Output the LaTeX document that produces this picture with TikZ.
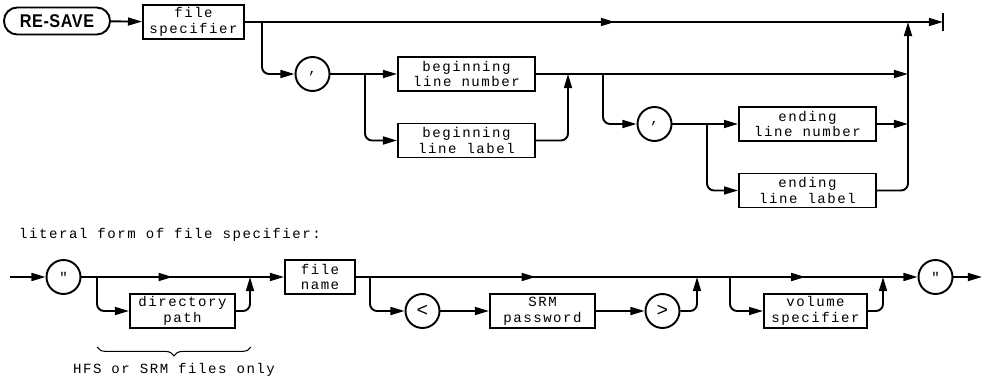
\documentclass[tikz,border=0pt]{standalone}
\usepackage{fontspec}
\usetikzlibrary{arrows.meta,decorations.markings,decorations.pathreplacing}
\newfontfamily\plotfont{Liberation Mono}[LetterSpace=11, Ligatures=TeXOff]
\newfontfamily\keyfont{Liberation Sans}[FakeStretch=0.88, LetterSpace=3]
\begin{document}
\begin{tikzpicture}[x=0.02cm, y=-0.02cm, >={Triangle[length=8pt,width=4.5pt]}]

    \tikzset{
        item/.style={
            draw,
            rectangle,
            line width=1.1pt,
            minimum height=0.68cm,
            inner sep=1pt,
            align=center,
            font=\plotfont\fontsize{8}{9}\selectfont
        },
        ring/.style={
            draw,
            circle,
            line width=1.1pt,
            minimum size=0.68cm,
            inner sep=0pt,
            font=\plotfont\fontsize{8}{9}\selectfont
        },
        keyword/.style={
            draw,
            rectangle,
            rounded corners=7.5pt,
            line width=1.1pt,
            minimum width=2.12cm,
            minimum height=0.54cm,
            font=\keyfont\bfseries\fontsize{10.5}{12}\selectfont
        },
        wire/.style={line width=1.1pt},
        flow/.style={line width=1.1pt, ->},
        roundbend/.style={rounded corners=4pt},
        midarrow/.style={postaction={decorate,
            decoration={markings, mark=at position #1 with {\arrow{>}}}}},
        remark/.style={font=\plotfont\fontsize{8}{9}\selectfont}
    }

    \useasboundingbox (0,0) rectangle (983,378);

    % horní diagram: RE-SAVE
    \node[keyword] (resave) at (57,21) {RE-SAVE};
    \node[item, minimum width=2.02cm] (fspec) at (193.5,22) {file\\specifier};
    \node[ring] (comma1) at (312.5,74) {,};
    \node[item, minimum width=2.74cm] (bnum) at (466.5,74) {beginning\\line number};
    \node[item, minimum width=2.74cm] (blab) at (466.5,140.5) {beginning\\line label};
    \node[ring] (comma2) at (654.5,124) {,};
    \node[item, minimum width=2.74cm] (enum) at (807.5,124) {ending\\line number};
    \node[item, minimum width=2.74cm] (elab) at (807.5,190.5) {ending\\line label};

    % body větvení
    \coordinate (tend) at (943,22);
    \coordinate (b1) at (262,22);
    \coordinate (b2) at (365,74);
    \coordinate (j1) at (568,74);
    \coordinate (b3) at (603,74);
    \coordinate (j2) at (908,74);
    \coordinate (b4) at (707,124);
    \coordinate (j3) at (908,124);
    \coordinate (j4) at (908,22);

    \draw[flow] (resave) -- (fspec);
    \draw[flow, midarrow=0.53] (fspec) -- (tend);
    \draw[wire] ([yshift=5pt]tend) -- ([yshift=-5pt]tend);
    \draw[flow, roundbend] (b1) |- (comma1);
    \draw[flow] (comma1) -- (bnum);
    \draw[flow, roundbend] (b2) |- (blab);
    \draw[flow, roundbend] (blab) -| (j1);
    \draw[flow] (bnum) -- (j2);
    \draw[flow, roundbend] (b3) |- (comma2);
    \draw[flow] (comma2) -- (enum);
    \draw[flow, roundbend] (b4) |- (elab);
    \draw[flow] (enum) -- (j3);
    \draw[flow, roundbend] (elab) -| (j4);

    % dolní diagram: literal form
    \node[remark, anchor=west] (caption) at (13,235) {literal form of file specifier:};
    \node[ring] (q1) at (63.5,277) {"};
    \node[item, minimum width=2.1cm] (dirpath) at (182.5,311) {directory\\path};
    \node[item, minimum width=1.4cm] (fname) at (320,277) {file\\name};
    \node[ring] (lt) at (422.5,311) {\fontsize{11}{12}\selectfont <};
    \node[item, minimum width=2.1cm] (srm) at (542.5,311) {SRM\\password};
    \node[ring] (gt) at (662.5,311) {\fontsize{11}{12}\selectfont >};
    \node[item, minimum width=2.06cm] (vol) at (815.5,311) {volume\\specifier};
    \node[ring] (q2) at (935.5,277) {"};

    \coordinate (start) at (10,277);
    \coordinate (stop) at (982,277);
    \coordinate (b5) at (97,277);
    \coordinate (j5) at (250,277);
    \coordinate (b6) at (370,277);
    \coordinate (j6) at (697,277);
    \coordinate (b7) at (730,277);
    \coordinate (j7) at (883,277);

    \draw[flow] (start) -- (q1);
    \draw[flow, midarrow=0.45] (q1) -- (fname);
    \draw[flow, midarrow=0.32, midarrow=0.8] (fname) -- (q2);
    \draw[flow, roundbend] (b5) |- (dirpath);
    \draw[flow, roundbend] (dirpath) -| (j5);
    \draw[flow, roundbend] (b6) |- (lt);
    \draw[flow] (lt) -- (srm);
    \draw[flow] (srm) -- (gt);
    \draw[flow, roundbend] (gt) -| (j6);
    \draw[flow, roundbend] (b7) |- (vol);
    \draw[flow, roundbend] (vol) -| (j7);
    \draw[flow] (q2) -- (stop);

    % závorka
    \draw[line width=0.6pt, decorate, decoration={brace, mirror, amplitude=5pt}]
        (97,347) -- (251,347);
    \node[remark] (note) at (174,370) {HFS or SRM files only};

\end{tikzpicture}
\end{document}
